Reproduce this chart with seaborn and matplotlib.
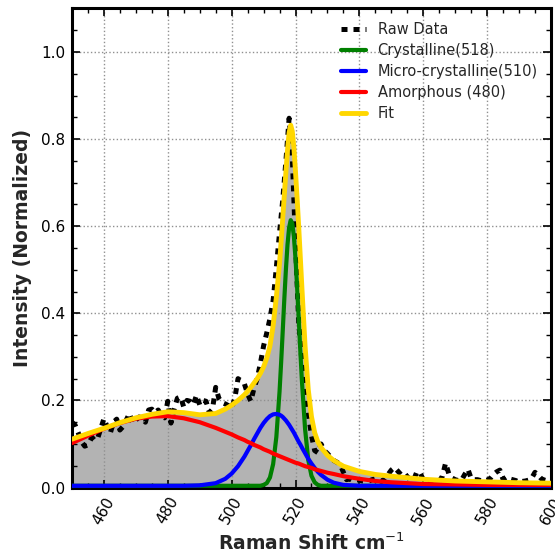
import matplotlib
matplotlib.use("Agg")
import matplotlib.pyplot as plt
import seaborn as sns
import numpy as np
from matplotlib.ticker import MultipleLocator

# ---------------- data ----------------
raw_shift = list(range(450, 600))
raw_intensity = [
    0.150, 0.143, 0.125, 0.105, 0.095, 0.098, 0.112, 0.118, 0.112, 0.135,
    0.158, 0.140, 0.125, 0.150, 0.157, 0.132, 0.140, 0.155, 0.170, 0.148,
    0.155, 0.162, 0.160, 0.150, 0.178, 0.180, 0.172, 0.178, 0.165, 0.160,
    0.198, 0.148, 0.180, 0.205, 0.208, 0.185, 0.200, 0.198, 0.190, 0.212,
    0.190, 0.200, 0.198, 0.172, 0.180, 0.230, 0.205, 0.195, 0.192, 0.188,
    0.182, 0.205, 0.250, 0.245, 0.238, 0.215, 0.198, 0.228, 0.250, 0.285,
    0.325, 0.355, 0.388, 0.430, 0.505, 0.585, 0.660, 0.750, 0.848, 0.760,
    0.560, 0.380, 0.290, 0.235, 0.170, 0.120, 0.085, 0.080, 0.100, 0.085,
    0.078, 0.070, 0.062, 0.058, 0.053, 0.035, 0.018, 0.020, 0.016, 0.018,
    0.017, 0.015, 0.014, 0.015, 0.018, 0.020, 0.016, 0.014, 0.020, 0.030,
    0.040, 0.046, 0.038, 0.030, 0.034, 0.025, 0.018, 0.017, 0.036, 0.034,
    0.018, 0.012, 0.014, 0.015, 0.012, 0.014, 0.026, 0.056, 0.032, 0.022,
    0.018, 0.016, 0.017, 0.030, 0.042, 0.021, 0.018, 0.018, 0.016, 0.015,
    0.017, 0.021, 0.030, 0.036, 0.040, 0.019, 0.024, 0.020, 0.018, 0.016,
    0.012, 0.014, 0.015, 0.017, 0.022, 0.035, 0.028, 0.020, 0.017, 0.015,
]

comp_shift = [450, 455, 460, 465, 470, 475, 480, 485, 490, 495, 498, 500, 502, 504,
              505, 506, 507, 508, 509, 510, 511, 512, 513, 514,
              515, 515.5, 516, 516.5, 517, 517.5, 518, 518.5, 519, 519.5,
              520, 520.5, 521, 521.5, 522,
              523, 524, 525, 526, 527, 528,
              530, 532, 535, 540, 545, 550, 560, 570, 580, 590, 600]

crystalline = [0.004] * 14 + [
    0.004, 0.004, 0.004, 0.004, 0.004, 0.006, 0.010, 0.023, 0.054, 0.116,
    0.220, 0.287, 0.359, 0.433, 0.501, 0.558, 0.597, 0.614, 0.606, 0.576,
    0.526, 0.461, 0.389, 0.315, 0.246,
    0.134, 0.063, 0.027, 0.012, 0.006, 0.004,
    0.004, 0.004, 0.004, 0.004, 0.004, 0.004, 0.004, 0.004, 0.004, 0.004, 0.004]

micro_crystalline = [
    0.004, 0.004, 0.004, 0.004, 0.004, 0.004, 0.004, 0.004, 0.005, 0.010, 0.020, 0.032, 0.049, 0.071,
    0.084, 0.097, 0.111, 0.124, 0.137, 0.148, 0.157, 0.164, 0.168, 0.169,
    0.167, 0.165, 0.162, 0.158, 0.154, 0.149, 0.144, 0.138, 0.132, 0.126,
    0.119, 0.112, 0.105, 0.099, 0.092,
    0.079, 0.066, 0.055, 0.045, 0.036, 0.029,
    0.018, 0.011, 0.006, 0.004, 0.004, 0.004, 0.004, 0.004, 0.004, 0.004, 0.004]

amorphous = [
    0.102, 0.119, 0.135, 0.148, 0.158, 0.163, 0.164, 0.159, 0.150, 0.137, 0.128, 0.122, 0.115, 0.109,
    0.105, 0.102, 0.098, 0.095, 0.092, 0.088, 0.085, 0.082, 0.078, 0.075,
    0.072, 0.0705, 0.069, 0.0675, 0.066, 0.0645, 0.063, 0.0615, 0.060, 0.0585,
    0.057, 0.056, 0.055, 0.0535, 0.052,
    0.049, 0.047, 0.045, 0.042, 0.040, 0.038,
    0.034, 0.031, 0.026, 0.020, 0.015, 0.012, 0.008, 0.007, 0.006, 0.006, 0.006]

fit = [
    0.111, 0.124, 0.136, 0.149, 0.160, 0.168, 0.174, 0.172, 0.167, 0.170, 0.180, 0.189, 0.200, 0.213,
    0.221, 0.230, 0.240, 0.250, 0.262, 0.277, 0.297, 0.325, 0.372, 0.437,
    0.515, 0.565, 0.618, 0.672, 0.725, 0.775, 0.815, 0.832, 0.818, 0.780,
    0.725, 0.665, 0.600, 0.530, 0.460,
    0.325, 0.225, 0.163, 0.126, 0.105, 0.092,
    0.074, 0.062, 0.049, 0.037, 0.030, 0.026, 0.019, 0.015, 0.013, 0.011, 0.010]

x_ticks = [460, 480, 500, 520, 540, 560, 580, 600]
y_ticks = [0.0, 0.2, 0.4, 0.6, 0.8, 1.0]

# ---------------- style ----------------
sns.set_theme(style="ticks")
plt.rcParams["font.family"] = ["DejaVu Sans"]
plt.rcParams["xtick.direction"] = "in"
plt.rcParams["ytick.direction"] = "in"

fig = plt.figure(figsize=(5.55, 5.58), dpi=100)
ax = fig.add_axes([0.1297, 0.1263, 0.8630, 0.8585])

ax.fill_between(comp_shift, fit, 0, color="#b3b3b3", zorder=1, linewidth=0)

sns.lineplot(x=raw_shift, y=raw_intensity, ax=ax, color="black", linestyle=(0, (1.2, 1.2)),
             linewidth=3.6, label="Raw Data", estimator=None, sort=False, zorder=3)
sns.lineplot(x=comp_shift, y=crystalline, ax=ax, color="green", linewidth=3,
             label="Crystalline(518)", estimator=None, sort=False, zorder=4)
sns.lineplot(x=comp_shift, y=micro_crystalline, ax=ax, color="blue", linewidth=3,
             label="Micro-crystalline(510)", estimator=None, sort=False, zorder=5)
sns.lineplot(x=comp_shift, y=amorphous, ax=ax, color="red", linewidth=3,
             label="Amorphous (480)", estimator=None, sort=False, zorder=6)
sns.lineplot(x=comp_shift, y=fit, ax=ax, color="gold", linewidth=3.5,
             label="Fit", estimator=None, sort=False, zorder=7)

ax.set_xlim(450, 600)
ax.set_ylim(0, 1.1)
ax.set_xticks(x_ticks)
ax.set_yticks(y_ticks)
ax.set_xticklabels([str(t) for t in x_ticks], rotation=60, fontsize=11)
ax.set_yticklabels([f"{t:.1f}" for t in y_ticks], fontsize=11)
ax.xaxis.set_minor_locator(MultipleLocator(5))
ax.yaxis.set_minor_locator(MultipleLocator(0.05))
ax.tick_params(which="both", direction="in", top=True, right=True, colors="black",
               labelcolor="black")
ax.tick_params(which="major", length=6, width=1.2, pad=5)
ax.tick_params(which="minor", length=3.5, width=1.0)

for sp in ax.spines.values():
    sp.set_linewidth(2.2)
    sp.set_color("black")
    sp.set_visible(True)

ax.grid(True, which="major", linestyle=":", color="#909090", linewidth=1.0)
ax.set_axisbelow("line")

ax.set_xlabel(r"Raman Shift cm$^{-1}$", fontsize=13.5, fontweight="bold", labelpad=4)
ax.set_ylabel("Intensity (Normalized)", fontsize=13.5, fontweight="bold", labelpad=6)

leg = ax.legend(loc="upper right", bbox_to_anchor=(0.992, 0.992), frameon=False,
                fontsize=10.5, handlelength=1.7, labelspacing=0.42, borderaxespad=0.25)

fig.savefig("out.png", dpi=100)
